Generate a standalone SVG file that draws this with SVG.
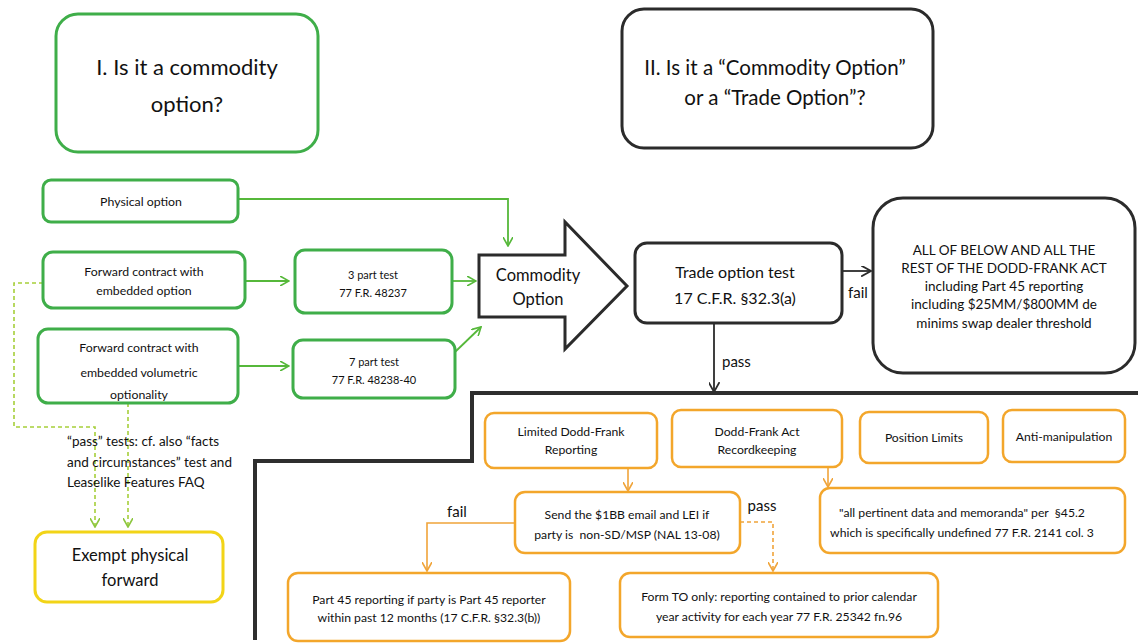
<svg xmlns="http://www.w3.org/2000/svg" width="1138" height="644" viewBox="0 0 1138 644">
<style>
text{font-family:Lato,"Open Sans","Liberation Sans",sans-serif;fill:#111;text-anchor:middle}
.g{fill:#fff;stroke:#3fae49;stroke-width:3}
.k{fill:#fff;stroke:#2b2b2b;stroke-width:3}
.o{fill:#fff;stroke:#f3a62b;stroke-width:2.5}
.y{fill:#fff;stroke:#f2d417;stroke-width:3}
.cg{fill:none;stroke:#56b83a;stroke-width:1.8}
.cgd{fill:none;stroke:#a6cf3a;stroke-width:1.6;stroke-dasharray:4 3}
.ck{fill:none;stroke:#2b2b2b;stroke-width:1.8}
.co{fill:none;stroke:#f0a43a;stroke-width:1.6}
.cod{fill:none;stroke:#f0a43a;stroke-width:1.6;stroke-dasharray:4 3}
.s11{font-size:11px}
.sg{font-size:12.3px}
.so{font-size:12.2px}
.l{text-anchor:start}
</style>
<defs>
<marker id="ag" viewBox="0 0 10 10" refX="9" refY="5" markerWidth="10" markerHeight="10" markerUnits="userSpaceOnUse" orient="auto"><path d="M0,0 L9,5 L0,10" fill="none" stroke="#56b83a" stroke-width="1.6"/></marker>
<marker id="agl" viewBox="0 0 10 10" refX="9" refY="5" markerWidth="10" markerHeight="10" markerUnits="userSpaceOnUse" orient="auto"><path d="M0,0 L9,5 L0,10" fill="none" stroke="#8cc63f" stroke-width="1.6"/></marker>
<marker id="ak" viewBox="0 0 10 10" refX="9" refY="5" markerWidth="11" markerHeight="11" markerUnits="userSpaceOnUse" orient="auto"><path d="M0,0 L9,5 L0,10" fill="none" stroke="#2b2b2b" stroke-width="1.6"/></marker>
<marker id="ao" viewBox="0 0 10 10" refX="9" refY="5" markerWidth="10" markerHeight="10" markerUnits="userSpaceOnUse" orient="auto"><path d="M0,0 L9,5 L0,10" fill="none" stroke="#f0a43a" stroke-width="1.6"/></marker>
</defs>
<rect width="1138" height="644" fill="#fff"/>

<g id="connectors">
<path class="cg" d="M238,199 H508 V246" marker-end="url(#ag)"/>
<path class="cg" d="M245,281 H289" marker-end="url(#ag)"/>
<path class="cg" d="M238,366 H289" marker-end="url(#ag)"/>
<path class="cg" d="M452,281 H476" marker-end="url(#ag)"/>
<path class="cg" d="M455,352 L481,327" marker-end="url(#ag)"/>
<path class="cgd" d="M43,283 H14 V427 H95 V527" marker-end="url(#agl)"/>
<path class="cgd" d="M128,403 V527" marker-end="url(#agl)"/>
<path class="ck" d="M842,271 H871" marker-end="url(#ak)"/>
<path class="ck" d="M714,323 V392" marker-end="url(#ak)"/>
<path fill="none" stroke="#2e2e2e" stroke-width="4" d="M1138,393 H472 V461 H255 V640"/>
<path class="co" d="M628,468 V491" marker-end="url(#ao)"/>
<path class="co" d="M828,467 V487" marker-end="url(#ao)"/>
<path class="co" d="M515,523 H427 V571" marker-end="url(#ao)"/>
<path class="cod" d="M740,522 H773 V571" marker-end="url(#ao)"/>
</g>

<g id="q1"><rect class="g" x="56" y="14" width="262" height="138" rx="22"/>
<text x="187" y="75" font-size="22">I. Is it a commodity</text><text x="187" y="112" font-size="22">option?</text></g>

<g id="q2"><rect class="k" x="622" y="9" width="311" height="139" rx="22"/>
<text x="775" y="75" font-size="20.5">II. Is it a “Commodity Option”</text><text x="775" y="105" font-size="20.5">or a “Trade Option”?</text></g>

<g id="physical"><rect class="g" x="43" y="180" width="195" height="42" rx="8"/>
<text class="sg" x="141" y="206">Physical option</text></g>

<g id="fwd-opt"><rect class="g" x="43" y="252" width="202" height="56" rx="10"/>
<text class="sg" x="144" y="276">Forward contract with</text><text class="sg" x="144" y="295">embedded option</text></g>

<g id="fwd-vol"><rect class="g" x="38" y="329" width="200" height="74" rx="10"/>
<text class="sg" x="139" y="352">Forward contract with</text><text class="sg" x="139" y="377">embedded volumetric</text><text class="sg" x="139" y="399">optionality</text></g>

<g id="test3"><rect class="g" x="295" y="250" width="157" height="63" rx="10"/>
<text class="s11" x="373" y="279">3 part test</text><text class="s11" x="373" y="297">77 F.R. 48237</text></g>

<g id="test7"><rect class="g" x="293" y="340" width="162" height="58" rx="10"/>
<text class="s11" x="374" y="366">7 part test</text><text class="s11" x="374" y="384">77 F.R. 48238-40</text></g>

<g id="commodity-option"><polygon points="479,255 565,255 565,222 627,286 565,349 565,317 479,317" fill="#fff" stroke="#2b2b2b" stroke-width="3" stroke-linejoin="miter"/>
<text x="538" y="281" font-size="16.5">Commodity</text><text x="538" y="305" font-size="16.5">Option</text></g>

<g id="trade-test"><rect class="k" x="635" y="243" width="207" height="80" rx="12"/>
<text x="735" y="278" font-size="16">Trade option test</text><text x="735" y="304" font-size="16">17 C.F.R. §32.3(a)</text></g>
<text x="858" y="298" font-size="15">fail</text>
<text class="l" x="722" y="367" font-size="15">pass</text>

<g id="all-below"><rect class="k" x="873" y="198" width="262" height="175" rx="30"/>
<text x="1004" y="255" font-size="13.5">ALL OF BELOW AND ALL THE</text>
<text x="1004" y="273" font-size="13.5">REST OF THE DODD-FRANK ACT</text>
<text x="1004" y="291" font-size="13.5">including Part 45 reporting</text>
<text x="1004" y="309" font-size="13.5">including $25MM/$800MM de</text>
<text x="1004" y="328" font-size="13.5">minims swap dealer threshold</text></g>

<g id="pass-tests-note">
<text class="l" x="67" y="446" font-size="13.5">“pass” tests: cf. also “facts</text>
<text class="l" x="67" y="467" font-size="13.5">and circumstances” test and</text>
<text class="l" x="67" y="487" font-size="13.5">Leaselike Features FAQ</text></g>

<g id="exempt"><rect class="y" x="35" y="532" width="188" height="70" rx="12"/>
<text x="130" y="561" font-size="16.5">Exempt physical</text><text x="130" y="586" font-size="16.5">forward</text></g>

<g id="limited"><rect class="o" x="485" y="413" width="172" height="55" rx="9"/>
<text class="so" x="571" y="436">Limited Dodd-Frank</text><text class="so" x="571" y="454">Reporting</text></g>

<g id="recordkeeping"><rect class="o" x="672" y="410" width="170" height="57" rx="9"/>
<text class="so" x="757" y="436">Dodd-Frank Act</text><text class="so" x="757" y="454">Recordkeeping</text></g>

<g id="position"><rect class="o" x="860" y="412" width="128" height="51" rx="9"/>
<text class="so" x="924" y="442">Position Limits</text></g>

<g id="antimanip"><rect class="o" x="1003" y="410" width="122" height="52" rx="9"/>
<text class="so" x="1064" y="441">Anti-manipulation</text></g>

<g id="send"><rect class="o" x="515" y="492" width="225" height="61" rx="10"/>
<text class="so" x="627" y="519">Send the $1BB email and LEI if</text><text class="so" x="627" y="539" xml:space="preserve">party is  non-SD/MSP (NAL 13-08)</text></g>

<g id="pertinent"><rect class="o" x="820" y="488" width="305" height="65" rx="10"/>
<text class="so" x="962" y="517" xml:space="preserve">"all pertinent data and memoranda" per  §45.2</text><text class="so" x="962" y="537">which is specifically undefined 77 F.R. 2141 col. 3</text></g>

<text x="457" y="517" font-size="15">fail</text>
<text x="762" y="511" font-size="15">pass</text>

<g id="part45"><rect class="o" x="288" y="573" width="282" height="68" rx="10"/>
<text class="so" x="429" y="604">Part 45 reporting if party is Part 45 reporter</text><text class="so" x="429" y="622">within past 12 months (17 C.F.R. §32.3(b))</text></g>

<g id="formto"><rect class="o" x="620" y="573" width="318" height="64" rx="10"/>
<text class="so" x="779" y="601">Form TO only: reporting contained to prior calendar</text><text class="so" x="779" y="621">year activity for each year 77 F.R. 25342 fn.96</text></g>
</svg>
